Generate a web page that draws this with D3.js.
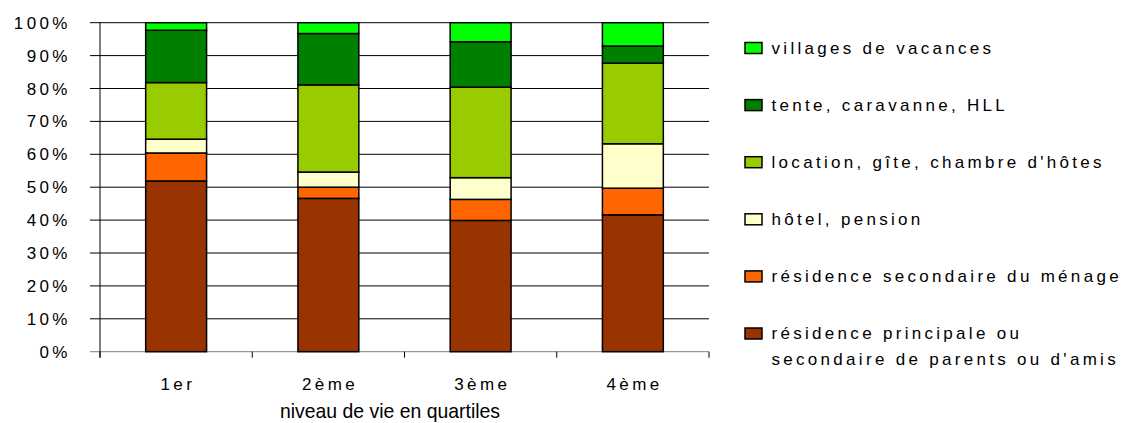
<!DOCTYPE html>
<html>
<head>
<meta charset="utf-8">
<script src="https://cdn.jsdelivr.net/npm/d3@7/dist/d3.min.js"></script>
<style>
  html, body { margin: 0; padding: 0; background: #fff; }
  svg { display: block; }
  text { font-family: "Liberation Sans", Arial, sans-serif; fill: #000; }
</style>
</head>
<body>
<svg id="chart" width="1128" height="423"></svg>
<script>
// Quartiles of standard of living
const categories = ["1er", "2ème", "3ème", "4ème"];

// Share of holiday stays by type of accommodation (%), stacked bottom to top
const residencePrincipale = [51.9, 46.6, 39.9, 41.6];
const residenceSecondaire = [8.5, 3.4, 6.4, 8.1];
const hotelPension       = [4.2, 4.6, 6.6, 13.5];
const locationGite       = [17.2, 26.5, 27.5, 24.5];
const tenteCaravane      = [15.9, 15.6, 13.8, 5.2];
const villagesVacances   = [2.3, 3.3, 5.8, 7.1];

const seriesKeys = ["principale", "secondaire", "hotel", "location", "tente", "villages"];
const seriesLabels = {
  villages: ["villages de vacances"],
  tente: ["tente, caravanne, HLL"],
  location: ["location, gîte, chambre d'hôtes"],
  hotel: ["hôtel, pension"],
  secondaire: ["résidence secondaire du ménage"],
  principale: ["résidence principale ou", "secondaire de parents ou d'amis"]
};
const seriesColors = {
  principale: "#993300",
  secondaire: "#FF6600",
  hotel: "#FFFFCC",
  location: "#99CC00",
  tente: "#008000",
  villages: "#00FF00"
};

const yTicks = [0, 10, 20, 30, 40, 50, 60, 70, 80, 90, 100];
const axisTitle = "niveau de vie en quartiles";

const rows = categories.map((c, i) => ({
  cat: c,
  principale: residencePrincipale[i],
  secondaire: residenceSecondaire[i],
  hotel: hotelPension[i],
  location: locationGite[i],
  tente: tenteCaravane[i],
  villages: villagesVacances[i]
}));

const svg = d3.select("#chart");
const plot = { left: 100, right: 709, top: 22.7, bottom: 351.7 };

const x = d3.scaleBand()
  .domain(categories)
  .range([plot.left, plot.right])
  .paddingInner(0.6)
  .paddingOuter(0.3);

const y = d3.scaleLinear()
  .domain([0, 100])
  .range([plot.bottom, plot.top]);

// Horizontal gridlines
svg.append("g")
  .selectAll("line")
  .data(yTicks)
  .join("line")
  .attr("x1", plot.left - 10)
  .attr("x2", plot.right)
  .attr("y1", d => y(d))
  .attr("y2", d => y(d))
  .attr("stroke", d => d === 0 ? "#808080" : "#000")
  .attr("stroke-width", 1);

// Y axis line
svg.append("line")
  .attr("x1", plot.left).attr("x2", plot.left)
  .attr("y1", plot.top).attr("y2", plot.bottom + 6)
  .attr("stroke", "#000");

// Y tick labels
const ls = 3.4;
const fs = 17;
svg.append("g")
  .selectAll("text")
  .data(yTicks)
  .join("text")
  .attr("x", 67.5 + ls)
  .attr("y", d => y(d) + 6)
  .attr("text-anchor", "end")
  .attr("font-size", fs)
  .attr("letter-spacing", ls)
  .text(d => d + "%");

// Category separators on the x axis
const step = x.step();
const boundaries = categories.map(c => x(c) + x.bandwidth() / 2 - step / 2)
  .concat([x(categories[categories.length - 1]) + x.bandwidth() / 2 + step / 2]);
svg.append("g")
  .selectAll("line")
  .data(boundaries)
  .join("line")
  .attr("x1", d => d).attr("x2", d => d)
  .attr("y1", plot.bottom).attr("y2", plot.bottom + 6)
  .attr("stroke", "#000");

// Stacked bars
const stacked = d3.stack().keys(seriesKeys)(rows);
svg.append("g")
  .selectAll("g")
  .data(stacked)
  .join("g")
  .attr("fill", d => seriesColors[d.key])
  .selectAll("rect")
  .data(d => d)
  .join("rect")
  .attr("x", d => x(d.data.cat))
  .attr("width", x.bandwidth())
  .attr("y", d => y(d[1]))
  .attr("height", d => y(d[0]) - y(d[1]))
  .attr("stroke", "#000")
  .attr("stroke-width", 1.5);

// Category labels
svg.append("g")
  .selectAll("text")
  .data(categories)
  .join("text")
  .attr("x", d => x(d) + x.bandwidth() / 2 + ls / 2)
  .attr("y", 389.5)
  .attr("text-anchor", "middle")
  .attr("font-size", fs)
  .attr("letter-spacing", ls)
  .text(d => d);

// Axis title
svg.append("text")
  .attr("x", 390)
  .attr("y", 418)
  .attr("text-anchor", "middle")
  .attr("font-size", 21)
  .attr("textLength", 220)
  .attr("lengthAdjust", "spacingAndGlyphs")
  .text(axisTitle);

// Legend, top series first
const legendKeys = seriesKeys.slice().reverse();
const legend = svg.append("g")
  .selectAll("g")
  .data(legendKeys)
  .join("g")
  .attr("transform", (d, i) => `translate(745, ${48 + i * 57.1})`);

legend.append("rect")
  .attr("x", 0).attr("y", -5.5)
  .attr("width", 17).attr("height", 11)
  .attr("fill", d => seriesColors[d])
  .attr("stroke", "#000")
  .attr("stroke-width", 1.5);

legend.append("text")
  .attr("x", 26.5)
  .attr("y", 5.5)
  .attr("font-size", fs)
  .attr("letter-spacing", 3.3)
  .selectAll("tspan")
  .data(d => seriesLabels[d])
  .join("tspan")
  .attr("x", 26.5)
  .attr("dy", (d, i) => i === 0 ? 0 : 26)
  .text(d => d);
</script>
</body>
</html>
